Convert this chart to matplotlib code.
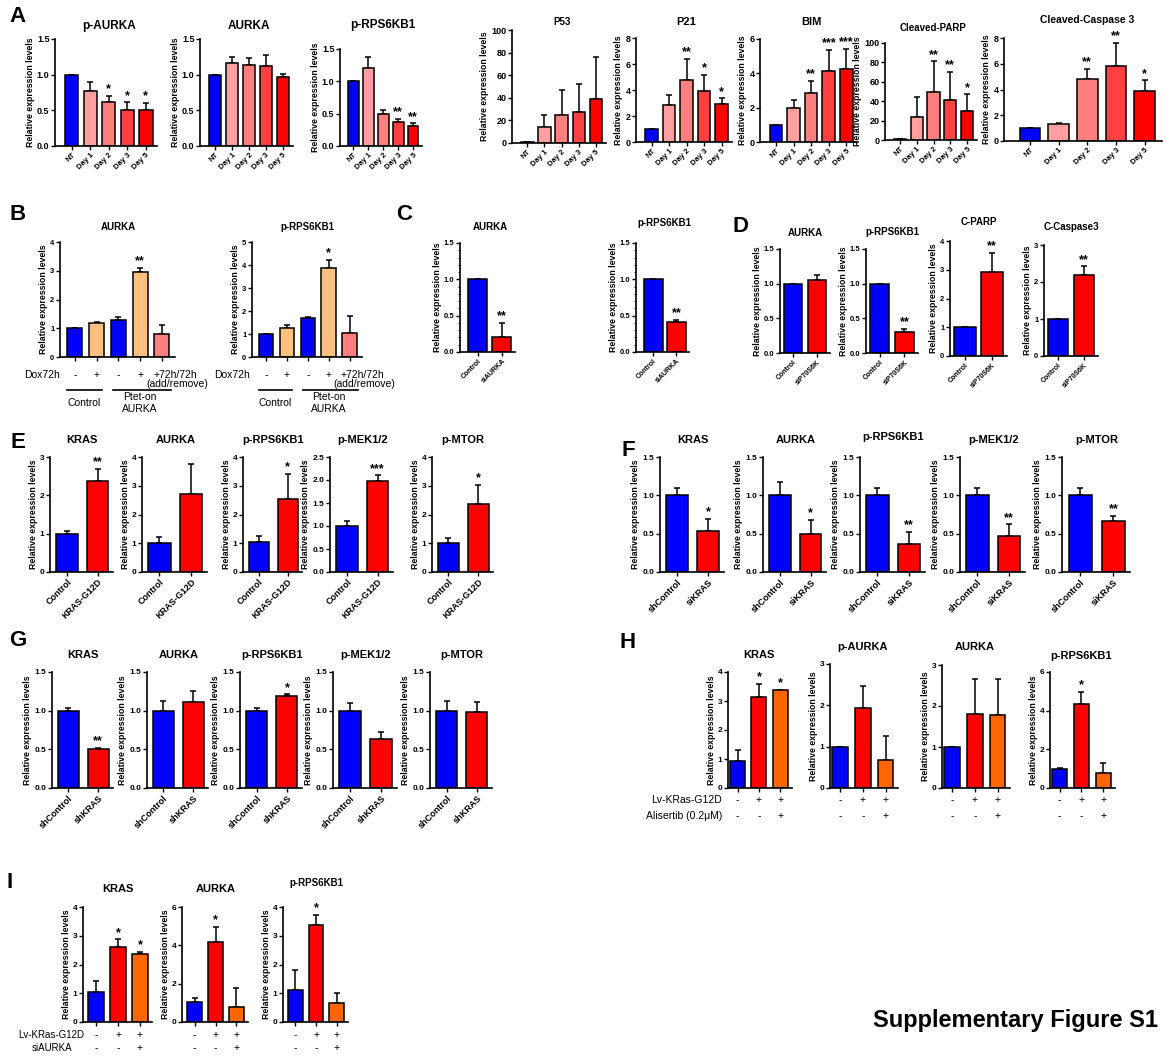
import matplotlib
matplotlib.use('Agg')
import matplotlib.pyplot as plt
import matplotlib.transforms as mtransforms
from matplotlib.ticker import AutoMinorLocator
import numpy as np

W, H = 1166, 1056
plt.rcParams['font.family'] = ['Liberation Sans', 'DejaVu Sans']

BLUE = '#0000ff'
RED = '#ff0000'
ORANGE = '#ff6600'
LORANGE = '#ffbf7f'
SALMON = '#ff7f7f'

# ---- panel A: time course ----
days = ['NT', 'Day 1', 'Day 2', 'Day 3', 'Day 5']
day_colors = [BLUE, '#ff9f9f', '#ff7f7f', '#ff4040', RED]
a_paurka = [1.00, 0.77, 0.61, 0.51, 0.51]
a_paurka_err = [0, 0.13, 0.09, 0.10, 0.09]
a_paurka_sig = ['', '', '*', '*', '*']
a_aurka = [1.00, 1.16, 1.13, 1.12, 0.97]
a_aurka_err = [0, 0.09, 0.10, 0.15, 0.04]
a_prps = [1.00, 1.20, 0.49, 0.37, 0.31]
a_prps_err = [0, 0.18, 0.07, 0.05, 0.04]
a_prps_sig = ['', '', '', '**', '**']
a_p53 = [1, 14, 25, 27, 39]
a_p53_err = [0, 11, 22, 25, 37]
a_p21 = [1.0, 2.85, 4.75, 3.9, 2.95]
a_p21_err = [0, 0.75, 1.65, 1.25, 0.4]
a_p21_sig = ['', '', '**', '*', '*']
a_bim = [1.0, 2.0, 2.85, 4.15, 4.25]
a_bim_err = [0, 0.45, 0.7, 1.2, 1.15]
a_bim_sig = ['', '', '**', '***', '***']
a_parp = [1, 24, 50, 41, 30]
a_parp_err = [0, 20, 31, 29, 17]
a_parp_sig = ['', '', '**', '**', '*']
a_casp = [1.0, 1.3, 4.8, 5.8, 3.85]
a_casp_err = [0, 0.12, 0.8, 1.8, 0.85]
a_casp_sig = ['', '', '**', '**', '*']

# ---- panel B: Ptet-on AURKA ----
b_colors = [BLUE, LORANGE, BLUE, LORANGE, SALMON]
b_dox = ['-', '+', '-', '+']
b_aurka = [1.0, 1.17, 1.27, 2.95, 0.80]
b_aurka_err = [0, 0.04, 0.13, 0.15, 0.31]
b_aurka_sig = ['', '', '', '**', '']
b_prps = [1.0, 1.27, 1.68, 3.85, 1.05]
b_prps_err = [0, 0.14, 0.04, 0.37, 0.75]
b_prps_sig = ['', '', '', '*', '']

# ---- panels C, D: siRNA ----
two_colors = [BLUE, RED]
c_labels = ['Control', 'siAURKA']
c_aurka = [1.0, 0.20]
c_aurka_err = [0, 0.20]
c_prps = [1.0, 0.41]
c_prps_err = [0, 0.03]
d_labels = ['Control', 'siP70S6K']
d_aurka = [1.0, 1.05]
d_aurka_err = [0, 0.07]
d_prps = [1.0, 0.30]
d_prps_err = [0, 0.05]
d_parp = [1.0, 2.93]
d_parp_err = [0, 0.67]
d_casp = [1.0, 2.2]
d_casp_err = [0, 0.22]
sig_2 = ['', '**']

# ---- panels E, F, G ----
e_labels = ['Control', 'KRAS-G12D']
e_kras = [1.0, 2.38]
e_kras_err = [0.07, 0.30]
e_aurka = [1.0, 2.7]
e_aurka_err = [0.22, 1.05]
e_prps = [1.03, 2.55]
e_prps_err = [0.22, 0.85]
e_pmek = [1.0, 1.97]
e_pmek_err = [0.10, 0.13]
e_pmtor = [1.0, 2.35]
e_pmtor_err = [0.18, 0.67]

f_labels = ['shControl', 'siKRAS']
f_kras = [1.0, 0.54]
f_kras_err = [0.10, 0.15]
f_aurka = [1.0, 0.50]
f_aurka_err = [0.17, 0.18]
f_prps = [1.0, 0.37]
f_prps_err = [0.10, 0.15]
f_pmek = [1.0, 0.47]
f_pmek_err = [0.10, 0.15]
f_pmtor = [1.0, 0.67]
f_pmtor_err = [0.10, 0.06]

g_labels = ['shControl', 'shKRAS']
g_kras = [1.0, 0.51]
g_kras_err = [0.04, 0.01]
g_aurka = [1.0, 1.11]
g_aurka_err = [0.13, 0.14]
g_prps = [1.0, 1.19]
g_prps_err = [0.04, 0.02]
g_pmek = [1.0, 0.64]
g_pmek_err = [0.10, 0.08]
g_pmtor = [1.0, 0.98]
g_pmtor_err = [0.12, 0.13]

# ---- panels H, I ----
three_colors = [BLUE, RED, ORANGE]
lv_signs = ['-', '+', '+']
drug_signs = ['-', '-', '+']
h_kras = [0.92, 3.15, 3.38]
h_kras_err = [0.40, 0.45, 0.0]
h_paurka = [1.0, 1.93, 0.68]
h_paurka_err = [0, 0.54, 0.59]
h_aurka = [1.0, 1.80, 1.78]
h_aurka_err = [0, 0.85, 0.89]
h_prps = [1.0, 4.35, 0.80]
h_prps_err = [0.05, 0.60, 0.50]
i_kras = [1.05, 2.62, 2.37]
i_kras_err = [0.37, 0.25, 0.06]
i_aurka = [1.05, 4.15, 0.80]
i_aurka_err = [0.20, 0.80, 0.98]
i_prps = [1.12, 3.38, 0.65]
i_prps_err = [0.68, 0.34, 0.35]


fig = plt.figure(figsize=(W / 100, H / 100), dpi=100)


def fy(y):
    return 1 - y / H


def panel(box, title, title_y, vals, errs, colors, yticks, fmt='{:.1f}',
          sig=None, xlabels=None, xfs=6, pad=(0.55, 0.5), width=0.7,
          title_fs=8, tick_fs=6.5, minor=False):
    x0, y0, x1, y1 = box
    ax = fig.add_axes([x0 / W, 1 - y1 / H, (x1 - x0) / W, (y1 - y0) / H])
    n = len(vals)
    x = np.arange(n)
    ax.bar(x, vals, width=width, color=colors, edgecolor='black',
           linewidth=1.1, zorder=2)
    ax.errorbar(x, vals, yerr=[np.zeros(n), errs], fmt='none', ecolor='black',
                elinewidth=1.1, capsize=2.5, capthick=1.1, zorder=1)
    ax.set_xlim(-pad[0], n - 1 + pad[1])
    ax.set_ylim(0, yticks[-1])
    ax.set_yticks(yticks)
    ax.set_yticklabels([fmt.format(t) for t in yticks], fontsize=tick_fs,
                       fontweight='bold')
    for s in ['top', 'right']:
        ax.spines[s].set_visible(False)
    for s in ['left', 'bottom']:
        ax.spines[s].set_linewidth(1.2)
    ax.tick_params(length=3, width=1, pad=1)
    ax.set_xticks(x)
    if xlabels:
        ax.set_xticklabels(xlabels, rotation=45, ha='right',
                           rotation_mode='anchor', fontsize=xfs,
                           fontweight='bold')
    else:
        ax.set_xticklabels([])
    if minor:
        ax.yaxis.set_minor_locator(AutoMinorLocator(5))
        ax.tick_params(axis='y', which='minor', length=1.5, width=0.6)
    ax.set_ylabel('Relative expression levels', fontsize=6.3,
                  fontweight='bold', labelpad=1.5)
    trans = mtransforms.blended_transform_factory(ax.transData, fig.transFigure)
    ax.text((n - 1) / 2, fy(title_y), title, transform=trans, ha='center',
            va='center', fontsize=title_fs, fontweight='bold')
    if sig:
        for i, s in enumerate(sig):
            if s:
                ax.annotate(s, (i, vals[i] + errs[i]), xytext=(0, 0.5),
                            textcoords='offset points', ha='center',
                            va='bottom', fontsize=9, fontweight='bold',
                            annotation_clip=False)
    return ax


def row_text(ax, xs, y, texts, fs=7.5):
    trans = mtransforms.blended_transform_factory(ax.transData, fig.transFigure)
    for xv, t in zip(xs, texts):
        ax.text(xv, fy(y), t, transform=trans, ha='center', va='center',
                fontsize=fs)


def hline(ax, xa, xb, y):
    trans = mtransforms.blended_transform_factory(ax.transData, fig.transFigure)
    ax.plot([xa, xb], [fy(y), fy(y)], transform=trans, color='black',
            lw=1.2, clip_on=False)


# ---- row A ----
kw_a = dict(xlabels=days, xfs=5.5, pad=(0.9, 0.6), width=0.72)
panel((55, 39, 157, 146), 'p-AURKA', 26, a_paurka, a_paurka_err, day_colors,
      [0.0, 0.5, 1.0, 1.5], sig=a_paurka_sig, title_fs=8.5, **kw_a)
panel((200, 39, 293, 146), 'AURKA', 26, a_aurka, a_aurka_err, day_colors,
      [0.0, 0.5, 1.0, 1.5], title_fs=8.5, **kw_a)
panel((340, 49, 422, 146), 'p-RPS6KB1', 25, a_prps, a_prps_err, day_colors,
      [0.0, 0.5, 1.0, 1.5], sig=a_prps_sig, title_fs=8.5, **kw_a)
panel((512, 30, 606, 143), 'P53', 22, a_p53, a_p53_err, day_colors,
      [0, 20, 40, 60, 80, 100], fmt='{:d}', title_fs=7, **kw_a)
panel((636, 38, 732, 142), 'P21', 22, a_p21, a_p21_err, day_colors,
      [0, 2, 4, 6, 8], fmt='{:d}', sig=a_p21_sig, **kw_a)
panel((760, 39, 857, 142), 'BIM', 22, a_bim, a_bim_err, day_colors,
      [0, 2, 4, 6], fmt='{:d}', sig=a_bim_sig, **kw_a)
panel((885, 43, 977, 140), 'Cleaved-PARP', 28, a_parp, a_parp_err,
      day_colors, [0, 20, 40, 60, 80, 100], fmt='{:d}', sig=a_parp_sig,
      title_fs=7, **kw_a)
panel((1004, 38, 1162, 141), 'Cleaved-Caspase 3', 20, a_casp, a_casp_err,
      day_colors, [0, 2, 4, 6, 8], fmt='{:d}', sig=a_casp_sig,
      title_fs=7.5, **kw_a)

# ---- row B ----
kw_b = dict(pad=(0.68, 0.6), width=0.69, title_fs=7, tick_fs=5.5)
for box, ttl, vals, errs, sig, ticks, dox_x in [
        ((60, 242, 175, 357), 'AURKA', b_aurka, b_aurka_err, b_aurka_sig,
         [0, 1, 2, 3, 4], 60),
        ((252, 242, 362, 357), 'p-RPS6KB1', b_prps, b_prps_err, b_prps_sig,
         [0, 1, 2, 3, 4, 5], 250)]:
    ax = panel(box, ttl, 227, vals, errs, b_colors, ticks, fmt='{:d}',
               sig=sig, **kw_b)
    fig.text(dox_x / W, fy(375), 'Dox72h', ha='right', va='center',
             fontsize=7.5)
    row_text(ax, range(4), 375, b_dox)
    row_text(ax, [4.6], 375, ['+72h/72h'])
    row_text(ax, [4.7], 384, ['(add/remove)'])
    hline(ax, -0.35, 1.25, 390)
    hline(ax, 1.75, 4.4, 390)
    row_text(ax, [0.45], 403, ['Control'])
    row_text(ax, [3.0], 397, ['Ptet-on'])
    row_text(ax, [3.0], 409, ['AURKA'])

# ---- row C / D ----
kw_c = dict(sig=sig_2, xfs=5, pad=(0.75, 0.55), width=0.8, title_fs=7,
            tick_fs=5.5, minor=True)
panel((460, 243, 515, 352), 'AURKA', 227, c_aurka, c_aurka_err, two_colors,
      [0.0, 0.5, 1.0, 1.5], xlabels=c_labels, **kw_c)
panel((636, 243, 689, 352), 'p-RPS6KB1', 223, c_prps, c_prps_err, two_colors,
      [0.0, 0.5, 1.0, 1.5], xlabels=c_labels, **kw_c)

kw_d = dict(xlabels=d_labels, xfs=5, pad=(0.55, 0.55), width=0.78,
            title_fs=7, tick_fs=5.5)
panel((780, 249, 830, 353), 'AURKA', 233, d_aurka, d_aurka_err, two_colors,
      [0.0, 0.5, 1.0, 1.5], **kw_d)
panel((866, 249, 918, 353), 'p-RPS6KB1', 232, d_prps, d_prps_err, two_colors,
      [0.0, 0.5, 1.0, 1.5], sig=sig_2, **kw_d)
panel((950, 241, 1007, 356), 'C-PARP', 222, d_parp, d_parp_err, two_colors,
      [0, 1, 2, 3, 4], fmt='{:d}', sig=sig_2, **kw_d)
panel((1044, 245, 1098, 356), 'C-Caspase3', 227, d_casp, d_casp_err,
      two_colors, [0, 1, 2, 3], fmt='{:d}', sig=sig_2, **kw_d)

# ---- row E ----
kw_e = dict(xlabels=e_labels, xfs=6.5, tick_fs=6)
panel((50, 457, 113, 572), 'KRAS', 440, e_kras, e_kras_err, two_colors,
      [0, 1, 2, 3], fmt='{:d}', sig=sig_2, **kw_e)
panel((142, 457, 207, 572), 'AURKA', 440, e_aurka, e_aurka_err, two_colors,
      [0, 1, 2, 3, 4], fmt='{:d}', **kw_e)
panel((243, 457, 302, 572), 'p-RPS6KB1', 440, e_prps, e_prps_err, two_colors,
      [0, 1, 2, 3, 4], fmt='{:d}', sig=['', '*'], **kw_e)
panel((330, 457, 393, 572), 'p-MEK1/2', 440, e_pmek, e_pmek_err, two_colors,
      [0.0, 0.5, 1.0, 1.5, 2.0, 2.5], sig=['', '***'], **kw_e)
panel((432, 457, 493, 572), 'p-MTOR', 440, e_pmtor, e_pmtor_err, two_colors,
      [0, 1, 2, 3, 4], fmt='{:d}', sig=['', '*'], **kw_e)

# ---- row F ----
kw_f = dict(xlabels=f_labels, xfs=6.5, tick_fs=6)
ticks15 = [0.0, 0.5, 1.0, 1.5]
panel((660, 457, 724, 572), 'KRAS', 440, f_kras, f_kras_err, two_colors,
      ticks15, sig=['', '*'], **kw_f)
panel((763, 457, 826, 572), 'AURKA', 440, f_aurka, f_aurka_err, two_colors,
      ticks15, sig=['', '*'], **kw_f)
panel((860, 457, 925, 572), 'p-RPS6KB1', 437, f_prps, f_prps_err, two_colors,
      ticks15, sig=sig_2, **kw_f)
panel((960, 457, 1025, 572), 'p-MEK1/2', 440, f_pmek, f_pmek_err, two_colors,
      ticks15, sig=sig_2, **kw_f)
panel((1062, 457, 1130, 572), 'p-MTOR', 440, f_pmtor, f_pmtor_err,
      two_colors, ticks15, sig=sig_2, **kw_f)

# ---- row G ----
kw_g = dict(xlabels=g_labels, xfs=6.5, tick_fs=6)
panel((52, 672, 113, 788), 'KRAS', 655, g_kras, g_kras_err, two_colors,
      ticks15, sig=sig_2, **kw_g)
panel((147, 672, 208, 788), 'AURKA', 655, g_aurka, g_aurka_err, two_colors,
      ticks15, **kw_g)
panel((240, 672, 302, 788), 'p-RPS6KB1', 655, g_prps, g_prps_err, two_colors,
      ticks15, sig=['', '*'], **kw_g)
panel((333, 672, 397, 788), 'p-MEK1/2', 655, g_pmek, g_pmek_err, two_colors,
      ticks15, **kw_g)
panel((430, 672, 492, 788), 'p-MTOR', 655, g_pmtor, g_pmtor_err, two_colors,
      ticks15, **kw_g)

# ---- row H ----
kw_h = dict(pad=(0.45, 0.55), width=0.7, tick_fs=6, fmt='{:d}')
h_axes = [
    panel((728, 672, 792, 788), 'KRAS', 655, h_kras, h_kras_err, three_colors,
          [0, 1, 2, 3, 4], sig=['', '*', '*'], **kw_h),
    panel((830, 664, 898, 788), 'p-AURKA', 647, h_paurka, h_paurka_err,
          three_colors, [0, 1, 2, 3], **kw_h),
    panel((942, 665, 1010, 788), 'AURKA', 647, h_aurka, h_aurka_err,
          three_colors, [0, 1, 2, 3], **kw_h),
    panel((1050, 672, 1115, 788), 'p-RPS6KB1', 656, h_prps, h_prps_err,
          three_colors, [0, 2, 4, 6], sig=['', '*', ''], **kw_h),
]
fig.text(722 / W, fy(800), 'Lv-KRas-G12D', ha='right', va='center',
         fontsize=7.5)
fig.text(722 / W, fy(816), 'Alisertib (0.2\u03bcM)', ha='right', va='center',
         fontsize=7.5)
for ax in h_axes:
    row_text(ax, range(3), 800, lv_signs)
    row_text(ax, range(3), 816, drug_signs)

# ---- row I ----
kw_i = dict(pad=(0.6, 0.55), width=0.7, tick_fs=6, fmt='{:d}')
i_axes = [
    panel((83, 907, 152, 1022), 'KRAS', 889, i_kras, i_kras_err, three_colors,
          [0, 1, 2, 3, 4], sig=['', '*', '*'], **kw_i),
    panel((182, 907, 248, 1022), 'AURKA', 889, i_aurka, i_aurka_err,
          three_colors, [0, 2, 4, 6], sig=['', '*', ''], **kw_i),
    panel((283, 907, 348, 1022), 'p-RPS6KB1', 883, i_prps, i_prps_err,
          three_colors, [0, 1, 2, 3, 4], sig=['', '*', ''], title_fs=7,
          **kw_i),
]
fig.text(84 / W, fy(1035), 'Lv-KRas-G12D', ha='right', va='center',
         fontsize=7)
fig.text(52 / W, fy(1048), 'siAURKA', ha='center', va='center', fontsize=7)
for ax in i_axes:
    row_text(ax, range(3), 1035, lv_signs)
    row_text(ax, range(3), 1048, drug_signs)

# ---- panel letters and figure label ----
for letter, x, y in [('A', 18, 17), ('B', 18, 215), ('C', 404, 215),
                     ('D', 740, 227), ('E', 18, 443), ('F', 628, 450),
                     ('G', 18, 640), ('H', 628, 642), ('I', 10, 883)]:
    fig.text(x / W, fy(y), letter, ha='center', va='center', fontsize=16,
             fontweight='bold')

fig.text(1158 / W, fy(1020), 'Supplementary Figure S1', ha='right',
         va='center', fontsize=17, fontweight='bold')

fig.savefig('out.png', dpi=100)
